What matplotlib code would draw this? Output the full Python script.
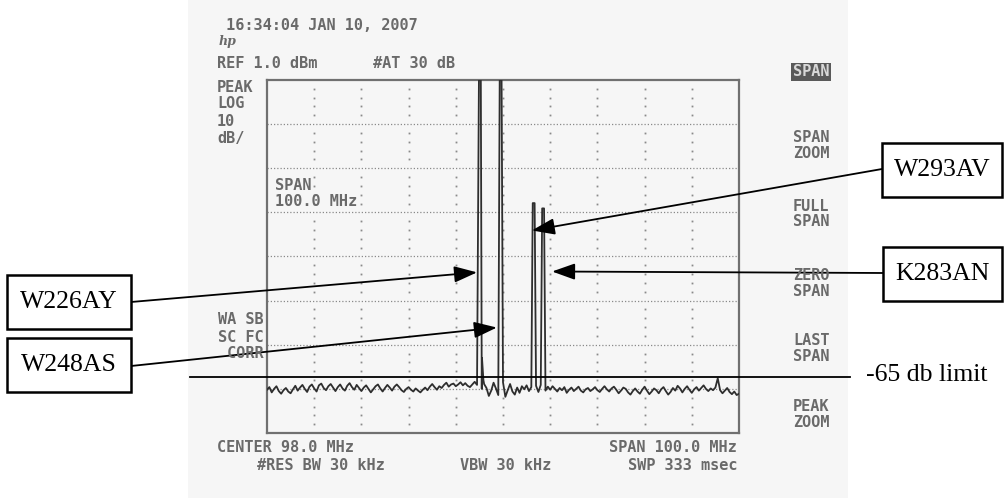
import matplotlib
matplotlib.use('Agg')
import matplotlib.pyplot as plt
import matplotlib.transforms as mtransforms
from matplotlib.patches import Rectangle
import numpy as np

W, H = 1005, 498

# analyzer settings
START_MHZ, STOP_MHZ = 48.0, 148.0
REF_DBM, DB_PER_DIV = 1.0, 10
NOISE_STEP = 0.5

# noise floor, read every 0.5 MHz from 48 to 148 MHz
NOISE_DBM = [
    -69.2, -68.6, -69.8, -69.0, -68.4, -69.5, -70.1, -69.3, -68.8, -69.6,
    -70.0, -69.1, -68.3, -69.4, -68.7, -68.1, -69.0, -69.7, -68.5, -68.0,
    -68.9, -69.6, -68.2, -67.8, -68.8, -69.3, -68.4, -67.9, -68.7, -69.5,
    -68.6, -68.0, -68.9, -69.4, -68.3, -67.7, -68.6, -69.2, -68.1, -68.8,
    -69.5, -68.7, -68.2, -69.0, -69.8, -69.1, -68.4, -68.0, -68.9, -69.6,
    -68.8, -68.1, -68.7, -69.4, -68.5, -68.0, -68.6, -69.3, -69.7, -69.0,
    -68.6, -69.2, -69.6, -68.9, -69.4, -69.8, -69.2, -68.7, -69.3, -68.5,
    -67.9, -68.6, -69.2, -68.4, -68.8, -68.1, -67.6, -68.5, -68.0, -67.8,
    -68.4, -68.0, -67.5, -68.2, -67.7, -68.3, -68.6, -68.0, -67.4, -68.1,
    -70.2, -69.0, -67.9, -68.8, -70.6, -69.4, -67.6, -68.9, -70.4, -68.6,
    -67.5, -70.8, -69.3, -67.9, -69.6, -70.3, -68.7, -69.9, -68.4, -69.1,
    -68.2, -69.5, -68.6, -68.9, -68.3, -69.7, -68.1, -68.8, -69.4, -68.5,
    -69.2, -68.4, -69.0, -69.6, -68.8, -69.3, -68.6, -69.9, -69.2, -68.7,
    -69.5, -69.0, -68.5, -69.4, -69.8, -69.1, -68.8, -69.5, -69.1, -68.6,
    -69.3, -69.7, -69.0, -68.4, -69.1, -69.6, -68.9, -68.5, -69.2, -70.0,
    -69.4, -68.7, -69.0, -69.8, -70.3, -69.5, -68.9, -69.6, -70.1, -69.2,
    -68.5, -69.4, -70.2, -69.6, -68.9, -69.3, -70.0, -69.1, -68.6, -69.5,
    -70.3, -69.7, -68.8, -69.4, -68.3, -68.9, -69.8, -69.0, -68.4, -69.2,
    -69.9, -69.1, -68.6, -69.4, -68.8, -68.2, -69.0, -69.5, -68.9, -69.3,
    -68.7, -66.6, -69.3, -70.0, -69.4, -68.8, -69.7, -70.2, -69.6, -70.4,
    -70.1,
]

# carriers
PEAK_MHZ = [93.1, 97.5, 104.5, 106.5]
PEAK_DBM = [1.0, 1.0, -26.9, -28.1]
SKIRT_MHZ = [93.55, 93.85]
SKIRT_DBM = [-62.0, -67.0]

LIMIT_DBM = -66.3
LIMIT_LABEL = '-65 db limit'

STATIONS = ['W226AY', 'W248AS', 'W293AV', 'K283AN']
ARROW_MHZ = [92.5, 96.7, 104.1, 108.4]
ARROW_DBM = [-42.6, -55.1, -33.1, -42.4]

GRAY = '#6a6a6a'
MONO = 'DejaVu Sans Mono'


def fx(x):
    return x / W


def fy(y):
    return 1 - y / H


# build the trace
freqs = START_MHZ + NOISE_STEP * np.arange(len(NOISE_DBM))
pts = [(f, v) for f, v in zip(freqs, NOISE_DBM)
       if min(abs(f - p) for p in PEAK_MHZ) > 0.3]
for p, lvl in zip(PEAK_MHZ, PEAK_DBM):
    pts += [(p - 0.2, lvl), (p + 0.2, lvl)]
pts += list(zip(SKIRT_MHZ, SKIRT_DBM))
pts.sort()
tr_f = [p[0] for p in pts]
tr_v = [p[1] for p in pts]

fig = plt.figure(figsize=(W / 100, H / 100), dpi=100)
fig.patch.set_facecolor('white')
fig.patches.append(Rectangle((fx(188), 0), fx(848) - fx(188), 1,
                             transform=fig.transFigure, fc='#f6f6f6',
                             ec='none', zorder=-5))

ax = fig.add_axes([fx(267), fy(433), fx(739) - fx(267), fy(80) - fy(433)])
ax.set_facecolor('none')
bottom = REF_DBM - 8 * DB_PER_DIV
ax.set_xlim(START_MHZ, STOP_MHZ)
ax.set_ylim(bottom, REF_DBM)
ax.set_xticks([])
ax.set_yticks([])
for s in ax.spines.values():
    s.set_color('#707070')
    s.set_linewidth(1.6)

# graticule
for k in range(1, 8):
    ax.axhline(REF_DBM - k * DB_PER_DIV, color='#8a8a8a', lw=0.9,
               ls=(0, (1, 1.6)), zorder=1)
span = STOP_MHZ - START_MHZ
for k in range(1, 10):
    xv = START_MHZ + k * span / 10
    ys = [REF_DBM - d * DB_PER_DIV - j * 2 for d in range(8) for j in range(1, 5)]
    ax.plot([xv] * len(ys), ys, ls='none', marker='s', ms=1.3,
            color='#8a8a8a', mec='none', zorder=1)

ax.plot(tr_f, tr_v, color='#2e2e2e', lw=1.3, zorder=3)

# limit line
blend = mtransforms.blended_transform_factory(fig.transFigure, ax.transData)
ax.plot([fx(190), fx(850)], [LIMIT_DBM, LIMIT_DBM], color='black', lw=1.3,
        transform=blend, clip_on=False, zorder=5)
fig.text(fx(866), fy(375), LIMIT_LABEL, family='Liberation Serif',
         fontsize=18.5, va='center', ha='left')

# instrument text
def inst(x, y, s, ha='left', **kw):
    return fig.text(fx(x), fy(y), s, family=MONO, fontsize=11, weight='bold',
                    color=GRAY, ha=ha, va='center', **kw)


inst(217, 25, ' 16:34:04 JAN 10, 2007')
fig.text(fx(219), fy(42), 'hp', family='DejaVu Serif', style='italic',
         weight='bold', fontsize=9, color=GRAY, va='center')
inst(217, 63, 'REF 1.0 dBm')
inst(373, 63, '#AT 30 dB')
for yy, s in zip([87, 104, 121, 138], ['PEAK', 'LOG', '10', 'dB/']):
    inst(217, yy, s)
inst(275, 185, 'SPAN')
inst(275, 202, '100.0 MHz')
for yy, s in zip([320, 337, 353], ['WA SB', 'SC FC', ' CORR']):
    inst(218, yy, s)
inst(217, 447, 'CENTER 98.0 MHz')
inst(257, 465, '#RES BW 30 kHz')
inst(460, 465, 'VBW 30 kHz')
inst(737, 447, 'SPAN 100.0 MHz', ha='right')
inst(737, 465, 'SWP 333 msec', ha='right')

t = inst(793, 72, 'SPAN', bbox=dict(boxstyle='square,pad=0.12', fc='#5a5a5a', ec='none'))
t.set_color('#d8d8d8')
keys = [('SPAN', 'ZOOM'), ('FULL', 'SPAN'), ('ZERO', 'SPAN'),
        ('LAST', 'SPAN'), ('PEAK', 'ZOOM')]
for (a, b), yy in zip(keys, [137, 206, 276, 340, 406]):
    inst(793, yy, a)
    inst(793, yy + 16, b)

# station call-outs
boxes = [(7, 275, 131, 329), (7, 338, 131, 392),
         (882, 143, 1002, 197), (883, 247, 1002, 301)]
tails = [(131, 302), (131, 366), (882, 169), (883, 273)]
for name, (x0, y0, x1, y1), (tx, ty), am, ad in zip(
        STATIONS, boxes, tails, ARROW_MHZ, ARROW_DBM):
    fig.patches.append(Rectangle((fx(x0), fy(y1)), fx(x1) - fx(x0),
                                 fy(y0) - fy(y1), transform=fig.transFigure,
                                 fc='white', ec='black', lw=1.8, zorder=6))
    fig.text(fx((x0 + x1) / 2), fy((y0 + y1) / 2), name,
             family='Liberation Serif', fontsize=18.5, ha='center',
             va='center', zorder=7)
    ax.annotate('', xy=(am, ad), xycoords='data', xytext=(tx, H - ty),
                textcoords='figure pixels', annotation_clip=False,
                arrowprops=dict(arrowstyle='-|>,head_length=1.4,head_width=0.5',
                                mutation_scale=10, lw=1.3, color='black',
                                shrinkA=0, shrinkB=0), zorder=6)

fig.savefig('out.png', dpi=100)
